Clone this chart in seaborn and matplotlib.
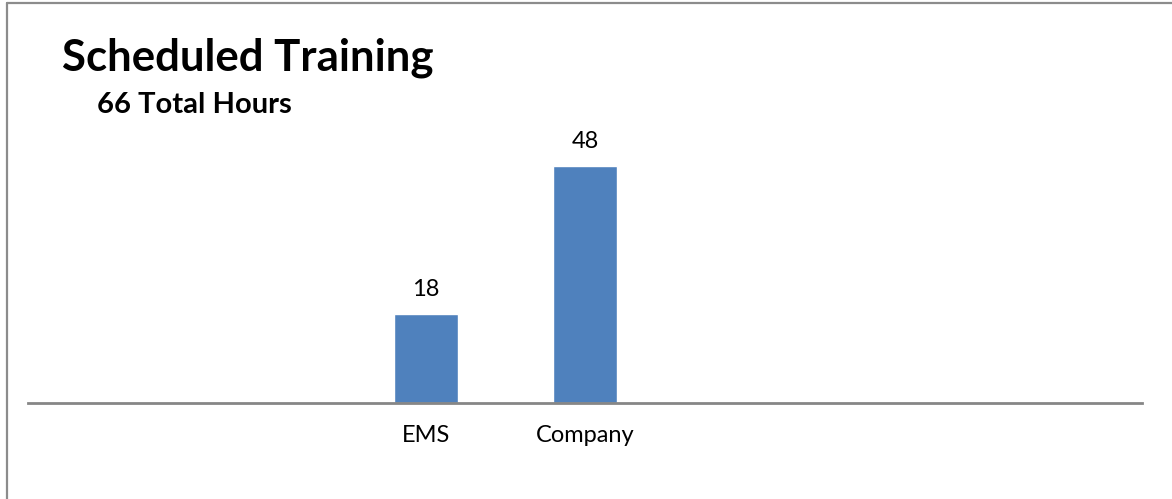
import matplotlib
matplotlib.use("Agg")
import matplotlib.pyplot as plt
import seaborn as sns
import pandas as pd
from matplotlib.lines import Line2D

categories = ["EMS", "Company"]
hours = [18, 48]
title = "Scheduled Training"
subtitle = "66 Total Hours"

sns.set_theme(style="white")
plt.rcParams["font.family"] = ["Lato", "DejaVu Sans"]

df = pd.DataFrame({"cat": categories, "hours": hours})

fig = plt.figure(figsize=(11.72, 4.99), dpi=100)
ax = fig.add_axes([28/1172, 96/499, (1142-28)/1172, (403-107)/499])

sns.barplot(data=df, x="cat", y="hours", color="#4F81BD", saturation=1,
            width=0.4, ax=ax)
ax.set_xlim(-2.5, 4.5)
ax.set_ylim(0, 60)
for c in ax.containers:
    ax.bar_label(c, labels=[str(v) for v in hours], padding=10, fontsize=17, color="#000000")

ax.set_xlabel("")
ax.set_ylabel("")
ax.set_yticks([])
ax.tick_params(axis="x", length=0, pad=16, labelsize=17, labelcolor="#000000")
for s in ["top", "right", "left"]:
    ax.spines[s].set_visible(False)
ax.spines["bottom"].set_color("#868686")
ax.spines["bottom"].set_linewidth(2)

fig.text(62/1172, 1 - 70/499, title, fontsize=31.5, fontweight="bold", color="#000000")
fig.text(97/1172, 1 - 113/499, subtitle, fontsize=21, fontweight="bold", color="#000000")

# frame (left and top edges only, as in the cropped reference)
fig.add_artist(Line2D([6.5/1172, 6.5/1172], [0, 1 - 3/499], transform=fig.transFigure,
                      color="#8c8c8c", linewidth=1.6))
fig.add_artist(Line2D([6.5/1172, 1], [1 - 3/499, 1 - 3/499], transform=fig.transFigure,
                      color="#8c8c8c", linewidth=1.6))

fig.savefig("out.png", dpi=100, facecolor="white")
